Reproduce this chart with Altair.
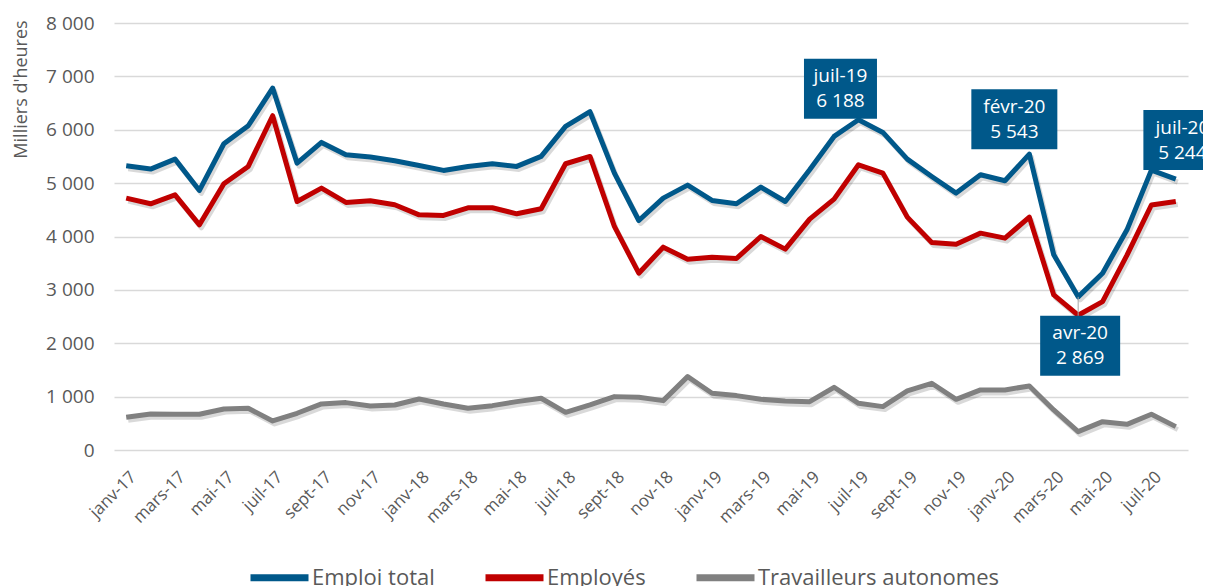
import altair as alt
import pandas as pd

months = ["janv-17", "févr-17", "mars-17", "avr-17", "mai-17", "juin-17", "juil-17", "août-17",
          "sept-17", "oct-17", "nov-17", "déc-17",
          "janv-18", "févr-18", "mars-18", "avr-18", "mai-18", "juin-18", "juil-18", "août-18",
          "sept-18", "oct-18", "nov-18", "déc-18",
          "janv-19", "févr-19", "mars-19", "avr-19", "mai-19", "juin-19", "juil-19", "août-19",
          "sept-19", "oct-19", "nov-19", "déc-19",
          "janv-20", "févr-20", "mars-20", "avr-20", "mai-20", "juin-20", "juil-20", "août-20"]

emploi_total = [5325, 5263, 5450, 4863, 5738, 6075, 6781, 5375, 5763, 5531, 5488, 5419,
                5331, 5238, 5313, 5363, 5313, 5500, 6063, 6338, 5188, 4300, 4719, 4963,
                4675, 4613, 4925, 4656, 5250, 5875, 6188, 5950, 5450, 5125, 4813, 5156,
                5044, 5543, 3656, 2869, 3313, 4125, 5244, 5075]
employes = [4719, 4613, 4781, 4219, 4988, 5313, 6263, 4656, 4906, 4638, 4669, 4594,
            4406, 4394, 4538, 4538, 4425, 4519, 5363, 5500, 4188, 3313, 3800, 3575,
            3613, 3588, 4000, 3763, 4325, 4700, 5344, 5188, 4363, 3888, 3856, 4063,
            3969, 4363, 2906, 2525, 2780, 3650, 4590, 4656]
autonomes = [612, 675, 669, 669, 769, 781, 544, 688, 863, 888, 825, 844,
             956, 863, 781, 831, 906, 969, 706, 844, 1000, 988, 925, 1375,
             1063, 1019, 950, 919, 906, 1175, 875, 813, 1106, 1250, 950, 1125,
             1125, 1200, 750, 344, 531, 481, 669, 438]

series_names = ["Emploi total", "Employés", "Travailleurs autonomes"]
series_colors = ["#00588A", "#C00000", "#808080"]
tick_months = months[::2]
y_ticks = [0, 1000, 2000, 3000, 4000, 5000, 6000, 7000, 8000]

annot_months = ["juil-19", "févr-20", "avr-20", "juil-20"]
annot_texts = ["juil-19\n6 188", "févr-20\n5 543", "avr-20\n2 869", "juil-20\n5 244"]

# styling for annotation boxes (offsets / widths in px)
annot_style = {
    "juil-19": dict(dx=-18, dy=-31, w=73),
    "févr-20": dict(dx=-15, dy=-35, w=86),
    "avr-20": dict(dx=2, dy=49, w=80),
    "juil-20": dict(dx=31, dy=-30, w=78),
}
LINE_H = 25

rows = []
for name, vals in [("Travailleurs autonomes", autonomes), ("Employés", employes), ("Emploi total", emploi_total)]:
    for m, v in zip(months, vals):
        rows.append({"mois": m, "valeur": v, "serie": name})
df = pd.DataFrame(rows)

ann_rows = []
for m, t in zip(annot_months, annot_texts):
    ann_rows.append({"mois": m, "valeur": emploi_total[months.index(m)], "label": t})
df_ann = pd.DataFrame(ann_rows)

FONT = "Open Sans"
GRAY_TXT = "#595959"

x_enc = alt.X("mois:N", sort=months, title=None,
              scale=alt.Scale(type="point", padding=0.5),
              axis=alt.Axis(values=tick_months, labelAngle=-45, labelAlign="right",
                            labelBaseline="middle", labelFont=FONT, labelFontSize=17,
                            labelColor=GRAY_TXT, labelPadding=24, labelOffset=7,
                            ticks=False, domain=False, grid=False, labelOverlap=False))
y_enc = alt.Y("valeur:Q", scale=alt.Scale(domain=[0, 8000], nice=False),
              axis=alt.Axis(values=y_ticks,
                            labelExpr="replace(format(datum.value, ','), ',', ' ')",
                            labelFont=FONT, labelFontSize=19, labelColor=GRAY_TXT,
                            labelPadding=20, ticks=False, domain=False,
                            gridColor="#D9D9D9", gridWidth=1.5,
                            title="Milliers d'heures", titleFont=FONT, titleFontSize=18,
                            titleFontWeight="normal", titleColor=GRAY_TXT,
                            titleX=-93, titleY=66, titleAlign="center",
                            titleBaseline="middle", titleAngle=-90))

base = alt.Chart(df)

shadow = base.mark_line(strokeWidth=5, color="#000000", opacity=0.15, xOffset=2, yOffset=3,
                        strokeJoin="round").encode(
    x=x_enc, y=y_enc, detail="serie:N")

lines = base.mark_line(strokeWidth=5, strokeJoin="round", strokeCap="butt").encode(
    x=x_enc, y=y_enc,
    color=alt.Color("serie:N",
                    scale=alt.Scale(domain=series_names, range=series_colors),
                    legend=alt.Legend(orient="none", legendX=133, legendY=522,
                                      direction="horizontal", title=None,
                                      symbolType="stroke", symbolStrokeWidth=7,
                                      symbolSize=3364, labelFont=FONT, labelFontSize=22,
                                      labelColor=GRAY_TXT, labelOffset=0, labelLimit=0,
                                      columnPadding=36)))

layers = [shadow, lines]

# leader line for avr-20
leader = alt.Chart(df_ann[df_ann["mois"] == "avr-20"]).mark_rule(
    color="#A6A6A6", strokeWidth=1, y2Offset=19).encode(
    x=x_enc, y=y_enc, y2="valeur:Q")
layers.append(leader)

for m in annot_months:
    st = annot_style[m]
    r = 60.0 / st["w"]
    sub = alt.Chart(df_ann[df_ann["mois"] == m])
    box = sub.mark_point(shape=f"M-1,-{r:.3f}H1V{r:.3f}H-1Z", filled=True, fill="#00588A",
                         opacity=1, strokeWidth=0, size=st["w"] ** 2,
                         xOffset=st["dx"], yOffset=st["dy"]).encode(x=x_enc, y=y_enc)
    txt = sub.mark_text(lineBreak="\n", font=FONT, fontSize=19, color="white", lineHeight=LINE_H,
                        align="center", baseline="middle",
                        xOffset=st["dx"], yOffset=st["dy"] - LINE_H / 2).encode(
        x=x_enc, y=y_enc, text="label:N")
    layers += [box, txt]

chart = alt.layer(*layers).properties(
    width=1074, height=427,
    padding={"left": 106, "top": 15, "right": 15, "bottom": 136},
    autosize=alt.AutoSizeParams(type="none"),
    background="white",
).configure_view(stroke=None)

chart.save("out.html", embed_options={"renderer": "svg", "actions": False})
